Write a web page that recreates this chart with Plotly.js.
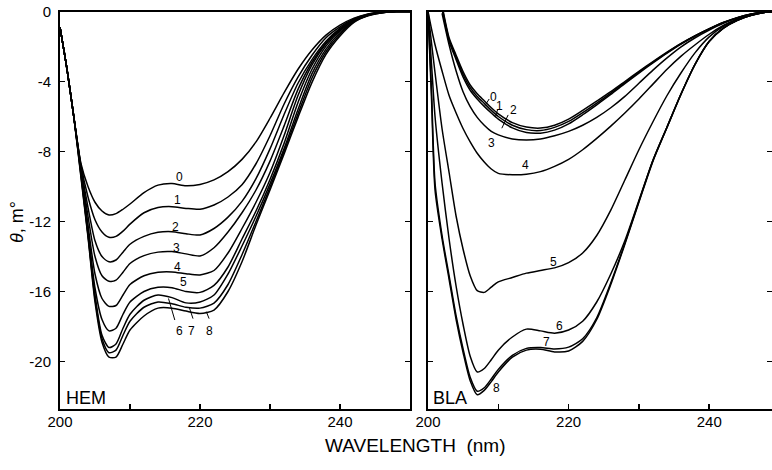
<!DOCTYPE html>
<html><head><meta charset="utf-8">
<script src="https://cdn.plot.ly/plotly-3.0.1.min.js"></script>
<style>html,body{margin:0;padding:0;background:#fff}#chart{width:772px;height:470px}</style>
</head><body><div id="chart"></div>
<script>
// ---------- DATA ----------
const wavelengthHem = [200,201,202,203,204,205,206,207,208,209,210,212,214,216,218,220,222,224,226,228,230,232,234,236,238,240,242,244,246,248,250];
const hem0 = [-0.9,-3.3,-6.1,-8.7,-10.0,-10.9,-11.4,-11.63,-11.55,-11.3,-11.0,-10.35,-9.92,-9.83,-9.96,-9.88,-9.62,-9.15,-8.45,-7.45,-6.1,-4.65,-3.3,-2.2,-1.35,-0.78,-0.38,-0.14,-0.03,0,0];
const hem1 = [-0.9,-3.3,-6.1,-8.8,-10.6,-11.9,-12.6,-12.9,-12.85,-12.55,-12.15,-11.5,-11.2,-11.15,-11.25,-11.3,-11.06,-10.6,-9.9,-8.7,-7.1,-5.3,-3.75,-2.5,-1.5,-0.88,-0.43,-0.16,-0.04,0,0];
const hem2 = [-0.9,-3.3,-6.1,-8.9,-11.2,-13.1,-14.0,-14.3,-14.2,-13.75,-13.3,-12.85,-12.62,-12.58,-12.7,-12.77,-12.4,-11.75,-10.85,-9.55,-7.85,-5.9,-4.1,-2.75,-1.7,-0.97,-0.47,-0.18,-0.05,0,0];
const hem3 = [-0.9,-3.3,-6.1,-9.0,-11.7,-14.0,-15.1,-15.42,-15.35,-14.9,-14.4,-13.95,-13.75,-13.72,-13.85,-13.97,-13.5,-12.6,-11.5,-10.2,-8.55,-6.55,-4.45,-2.9,-1.78,-1.0,-0.5,-0.19,-0.05,0,0];
const hem4 = [-0.9,-3.3,-6.1,-9.1,-12.2,-15.0,-16.4,-16.85,-16.8,-16.2,-15.6,-15.1,-14.9,-14.88,-14.98,-15.05,-14.8,-13.8,-12.4,-10.9,-9.2,-7.1,-4.8,-3.05,-1.85,-1.05,-0.52,-0.2,-0.06,0,0];
const hem5 = [-0.9,-3.3,-6.1,-9.2,-12.5,-15.8,-17.6,-18.25,-18.1,-17.3,-16.6,-16.0,-15.76,-15.78,-16.0,-16.05,-15.65,-14.6,-13.0,-11.4,-9.6,-7.55,-5.2,-3.3,-1.98,-1.1,-0.54,-0.21,-0.06,0,0];
const hem6 = [-0.9,-3.3,-6.1,-9.3,-12.7,-16.2,-18.5,-19.2,-19.0,-18.1,-17.3,-16.5,-16.2,-16.35,-16.65,-16.6,-16.2,-15.0,-13.4,-11.7,-9.85,-7.85,-5.6,-3.55,-2.15,-1.2,-0.56,-0.22,-0.06,0,0];
const hem7 = [-0.9,-3.3,-6.1,-9.4,-12.8,-16.4,-18.7,-19.5,-19.35,-18.5,-17.7,-16.9,-16.6,-16.7,-16.9,-16.95,-16.66,-15.6,-13.9,-12.0,-10.05,-8.0,-5.85,-3.8,-2.3,-1.3,-0.58,-0.23,-0.07,0,0];
const hem8 = [-0.9,-3.3,-6.1,-9.5,-12.9,-16.6,-18.9,-19.75,-19.75,-19.0,-18.2,-17.4,-16.95,-16.95,-17.12,-17.25,-17.06,-16.0,-14.3,-12.2,-10.2,-8.15,-6.05,-4.05,-2.45,-1.4,-0.62,-0.25,-0.07,0,0];

const wavelengthBla = [200,200.5,201,202,203,204,205,206,207,208,209,210,212,214,216,218,220,222,224,226,228,230,232,234,236,238,240,242,244,246,248,250];
const bla0 = [null,null,null,0.35,-1.5,-2.5,-3.45,-4.2,-4.7,-5.1,-5.5,-5.85,-6.35,-6.6,-6.66,-6.5,-6.15,-5.65,-5.12,-4.58,-4.0,-3.42,-2.86,-2.32,-1.82,-1.38,-0.98,-0.63,-0.35,-0.14,-0.03,0];
const bla1 = [null,null,null,0.25,-1.6,-2.62,-3.6,-4.35,-4.85,-5.25,-5.65,-6.0,-6.5,-6.75,-6.8,-6.62,-6.28,-5.78,-5.23,-4.66,-4.06,-3.47,-2.9,-2.35,-1.84,-1.39,-0.99,-0.63,-0.35,-0.14,-0.03,0];
const bla2 = [null,null,null,0.15,-1.7,-2.75,-3.75,-4.5,-5.0,-5.42,-5.8,-6.15,-6.65,-6.92,-6.95,-6.78,-6.42,-5.9,-5.33,-4.74,-4.12,-3.52,-2.94,-2.38,-1.86,-1.4,-1.0,-0.64,-0.35,-0.14,-0.03,0];
const bla3 = [null,null,null,-0.1,-1.9,-3.4,-4.6,-5.44,-6.05,-6.5,-6.85,-7.05,-7.28,-7.34,-7.28,-7.1,-6.85,-6.5,-6.05,-5.5,-4.85,-4.1,-3.35,-2.65,-2.02,-1.5,-1.06,-0.68,-0.38,-0.16,-0.04,0];
const bla4 = [0,-1.0,-1.9,-3.4,-4.8,-5.8,-6.7,-7.45,-8.1,-8.6,-9.0,-9.25,-9.33,-9.3,-9.15,-8.85,-8.45,-7.9,-7.25,-6.55,-5.8,-5.0,-4.15,-3.3,-2.55,-1.9,-1.3,-0.8,-0.42,-0.18,-0.04,0];
const bla5 = [0,-1.8,-3.5,-6.7,-9.2,-11.7,-13.6,-15.1,-15.95,-16.05,-15.75,-15.45,-15.2,-14.95,-14.8,-14.65,-14.35,-13.8,-12.8,-11.35,-9.63,-7.9,-6.3,-4.8,-3.5,-2.35,-1.45,-0.85,-0.45,-0.2,-0.05,0];
const bla6 = [0,-3.0,-6.0,-9.8,-13.0,-15.7,-17.9,-19.7,-20.6,-20.4,-19.9,-19.35,-18.6,-18.15,-18.25,-18.38,-18.2,-17.7,-16.6,-15.0,-13.1,-10.8,-8.5,-6.6,-4.7,-3.0,-1.7,-0.95,-0.5,-0.22,-0.05,0];
const bla7 = [0,-4.5,-9.8,-12.8,-15.1,-17.4,-19.3,-20.9,-21.7,-21.5,-21.0,-20.45,-19.65,-19.25,-19.2,-19.28,-19.18,-18.7,-17.5,-15.5,-13.25,-10.85,-8.5,-6.6,-4.7,-3.0,-1.7,-0.95,-0.5,-0.22,-0.05,0];
const bla8 = [0,-5.0,-10.2,-13.0,-15.3,-17.6,-19.5,-21.1,-21.9,-21.65,-21.15,-20.6,-19.75,-19.35,-19.3,-19.45,-19.4,-18.85,-17.6,-15.6,-13.3,-10.9,-8.55,-6.62,-4.72,-3.02,-1.72,-0.96,-0.5,-0.22,-0.05,0];

const curveNames = ['0','1','2','3','4','5','6','7','8'];
const xTickVals = [200,210,220,230,240];
const xTickText = ['200','','220','','240'];
const yTickVals = [0,-4,-8,-12,-16,-20];
const yTickText = ['0','-4','-8','-12','-16','-20'];
const xTitle = 'WAVELENGTH  (nm)';
const yTitle = '<i>θ</i>, m°';
const panelNames = ['HEM','BLA'];

// ---------- LAYOUT HELPERS (positions / styles) ----------
const hemSeries = [hem0,hem1,hem2,hem3,hem4,hem5,hem6,hem7,hem8];
const blaSeries = [bla0,bla1,bla2,bla3,bla4,bla5,bla6,bla7,bla8];
const lineStyle = {color:'#000', width:1.5, shape:'spline', smoothing:0.7};
const FONT = 'Liberation Sans, Arial, sans-serif';

const traces = [];
hemSeries.forEach((ys,i)=>traces.push({x:wavelengthHem, y:ys, xaxis:'x', yaxis:'y', mode:'lines', line:lineStyle, name:'HEM '+curveNames[i], hoverinfo:'skip'}));
blaSeries.forEach((ys,i)=>traces.push({x:wavelengthBla, y:ys, xaxis:'x2', yaxis:'y2', mode:'lines', line:lineStyle, name:'BLA '+curveNames[i], connectgaps:false, hoverinfo:'skip'}));

// label positions (chart coordinates)
const hemLabelPos = [[217.0,-9.44],[216.8,-10.77],[216.5,-12.33],[216.7,-13.5],[216.8,-14.58],[217.6,-15.48],[217.05,-18.24],[218.8,-18.24],[221.4,-18.24]];
const blaLabelPos = [[209.3,-4.87],[210.2,-5.4],[212.1,-5.63],[209.1,-7.53],[213.8,-8.77],[217.8,-14.3],[218.7,-17.95],[216.9,-18.87],[209.8,-21.53]];
const hemLeaders = [[6,216.4,-17.63,215.5,-16.4],[7,219.0,-17.55,218.5,-16.95],[8,221.3,-17.55,220.9,-17.15]];
const blaLeaders = [[0,208.7,-5.0,208.1,-5.38],[1,209.9,-5.62,209.6,-5.95],[2,211.4,-5.91,210.5,-6.67]];

const annotations = [];
curveNames.forEach((t,i)=>{
  annotations.push({x:hemLabelPos[i][0], y:hemLabelPos[i][1], xref:'x', yref:'y', text:t, showarrow:false, font:{family:FONT,size:12,color:'#000'}, xanchor:'center', yanchor:'middle'});
  annotations.push({x:blaLabelPos[i][0], y:blaLabelPos[i][1], xref:'x2', yref:'y2', text:t, showarrow:false, font:{family:FONT,size:12,color:'#000'}, xanchor:'center', yanchor:'middle'});
});
annotations.push({x:200.6, y:-22.1, xref:'x', yref:'y', text:panelNames[0], showarrow:false, font:{family:FONT,size:18,color:'#000'}, xanchor:'left', yanchor:'middle'});
annotations.push({x:200.45, y:-22.1, xref:'x2', yref:'y2', text:panelNames[1], showarrow:false, font:{family:FONT,size:18,color:'#000'}, xanchor:'left', yanchor:'middle'});
annotations.push({x:415/772, y:1-445/470, xref:'paper', yref:'paper', text:xTitle, showarrow:false, font:{family:FONT,size:19,color:'#000'}, xanchor:'center', yanchor:'middle'});
annotations.push({x:17/772, y:1-222/470, xref:'paper', yref:'paper', text:yTitle, textangle:-90, showarrow:false, font:{family:FONT,size:18,color:'#000'}, xanchor:'center', yanchor:'middle'});

const shapes = [];
hemLeaders.forEach(l=>shapes.push({type:'line', xref:'x', yref:'y', x0:l[1], y0:l[2], x1:l[3], y1:l[4], line:{color:'#000', width:1}}));
blaLeaders.forEach(l=>shapes.push({type:'line', xref:'x2', yref:'y2', x0:l[1], y0:l[2], x1:l[3], y1:l[4], line:{color:'#000', width:1}}));

const yDom = [(470-409)/470, (470-11.5)/470];
const yRange = [-(409-11.5)/17.5, 0];
const axBase = {showgrid:false, zeroline:false, showline:true, linecolor:'#000', linewidth:2, ticks:'inside', ticklen:5, tickcolor:'#000', tickwidth:1.5, tickfont:{family:FONT,size:15,color:'#000'}, fixedrange:true};

const layout = {
  width:772, height:470, margin:{l:0,r:0,t:0,b:0}, paper_bgcolor:'#fff', plot_bgcolor:'#fff', showlegend:false,
  xaxis: Object.assign({}, axBase, {domain:[60/772, 410/772], range:[200,250], tickmode:'array', tickvals:xTickVals, ticktext:xTickText, mirror:true, anchor:'y', ticklabelstandoff:-2}),
  yaxis: Object.assign({}, axBase, {domain:yDom, range:yRange, tickmode:'array', tickvals:yTickVals, ticktext:yTickText, mirror:'ticks', anchor:'x', ticklabelstandoff:4}),
  xaxis2: Object.assign({}, axBase, {domain:[428/772, 1], range:[200,248.93], tickmode:'array', tickvals:xTickVals, ticktext:xTickText, mirror:true, anchor:'y2', ticklabelstandoff:-2}),
  yaxis2: Object.assign({}, axBase, {domain:yDom, range:yRange, tickmode:'array', tickvals:yTickVals, showticklabels:false, mirror:'ticks', anchor:'x2'}),
  annotations:annotations, shapes:shapes
};

Plotly.newPlot('chart', traces, layout, {displayModeBar:false, staticPlot:true});
</script>
</body></html>
